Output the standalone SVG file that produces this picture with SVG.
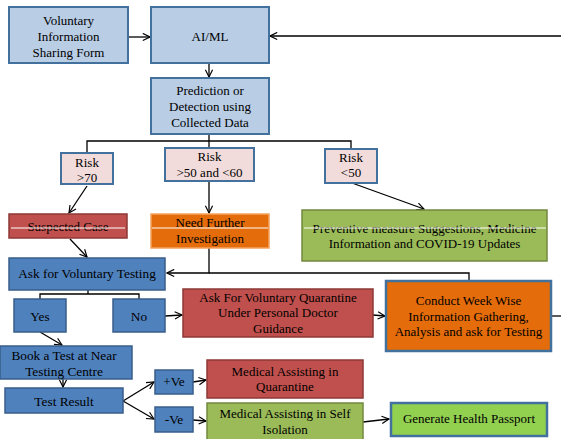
<svg xmlns="http://www.w3.org/2000/svg" width="561" height="439" viewBox="0 0 561 439">
  <defs>
    <marker id="arrow" viewBox="0 0 10 10" refX="9" refY="5" markerWidth="9" markerHeight="9" markerUnits="userSpaceOnUse" orient="auto">
      <polyline points="1,1 9,5 1,9" fill="none" stroke="#000" stroke-width="1.3"/>
    </marker>
  </defs>
  <style>
    .lblue { fill: #b9cde5; stroke: #41719c; stroke-width: 2; }
    .pink { fill: #f2dcdb; stroke: #41719c; stroke-width: 2; }
    .red { fill: #c0504d; stroke: #8c3836; stroke-width: 1.5; }
    .orange { fill: #e46c0a; stroke: #f4a460; stroke-width: 1.5; }
    .orangeb { fill: #e46c0a; stroke: #41719c; stroke-width: 2.5; }
    .green { fill: #9bbb59; stroke: #71893f; stroke-width: 1.5; }
    .bgreen { fill: #92d050; stroke: #41719c; stroke-width: 2.5; }
    .blue { fill: #4f81bd; stroke: #385d8a; stroke-width: 1.5; }
    .strike { stroke: #fff; stroke-width: 1; }
    .conn { fill: none; stroke: #000; stroke-width: 1.3; }
    .arr { marker-end: url(#arrow); }
    .big { font-size: 13.3px; }
  </style>

  <!-- connectors -->
  <g id="connectors">
    <line class="conn arr" x1="128" y1="37" x2="150" y2="37"/>
    <line class="conn arr" x1="561" y1="36" x2="270" y2="36" stroke="#333" stroke-width="1.6"/>
    <line class="conn arr" x1="209" y1="63" x2="209" y2="77"/>
    <polyline class="conn" points="209,134 209,141"/>
    <polyline class="conn" points="87,153 87,141 351,141 351,149"/>
    <line class="conn" x1="209" y1="141" x2="209" y2="148" stroke-width="1.6"/>
    <line class="conn arr" x1="87" y1="186" x2="69" y2="213"/>
    <line class="conn arr" x1="209" y1="182" x2="209" y2="213"/>
    <line class="conn arr" x1="352" y1="183" x2="424" y2="209"/>
    <line class="conn arr" x1="70" y1="239" x2="87" y2="257"/>
    <polyline class="conn arr" points="209,248 209,273 167,273"/>
    <polyline class="conn" points="209,273 469,273 469,280"/>
    <polyline class="conn" points="88,290 88,294"/>
    <polyline class="conn" points="40,299 40,294 139,294 139,299"/>
    <line class="conn arr" x1="165" y1="316" x2="182" y2="315"/>
    <line class="conn arr" x1="373" y1="315" x2="385" y2="316"/>
    <line class="conn" x1="552" y1="316" x2="561" y2="316" stroke="#444"/>
    <line class="conn arr" x1="40" y1="332" x2="62" y2="345"/>
    <line class="conn arr" x1="63" y1="379" x2="63" y2="387"/>
    <line class="conn arr" x1="123" y1="401" x2="154" y2="382"/>
    <line class="conn arr" x1="123" y1="401" x2="154" y2="419"/>
    <line class="conn arr" x1="193" y1="382" x2="206" y2="380"/>
    <line class="conn arr" x1="193" y1="420" x2="206" y2="421"/>
    <line class="conn arr" x1="363" y1="422" x2="389" y2="419"/>
  </g>

  <g font-family="'Liberation Serif', 'DejaVu Serif', serif" font-size="13" text-anchor="middle" fill="#000">
  <g id="info-form">
    <rect class="lblue" x="9" y="7" width="119" height="56"/>
    <text x="68.5" y="25">Voluntary</text>
    <text x="68.5" y="41">Information</text>
    <text x="68.5" y="57">Sharing Form</text>
  </g>

  <g id="aiml">
    <rect class="lblue" x="151" y="7" width="118" height="56"/>
    <text x="210" y="41">AI/ML</text>
  </g>

  <g id="prediction">
    <rect class="lblue" x="151" y="78" width="118" height="56"/>
    <text x="210" y="95">Prediction or</text>
    <text x="210" y="111">Detection using</text>
    <text x="210" y="127">Collected Data</text>
  </g>

  <g id="risk-high">
    <rect class="pink" x="61" y="153" width="52" height="31"/>
    <text x="87" y="167">Risk</text>
    <text x="87" y="182">&gt;70</text>
  </g>

  <g id="risk-mid">
    <rect class="pink" x="165" y="148" width="89" height="33"/>
    <text x="209.5" y="161">Risk</text>
    <text x="209.5" y="177">&gt;50 and &lt;60</text>
  </g>

  <g id="risk-low">
    <rect class="pink" x="325" y="149" width="52" height="34"/>
    <text x="351" y="162">Risk</text>
    <text x="351" y="177">&lt;50</text>
  </g>

  <g id="suspected">
    <rect class="red" x="9" y="214" width="118" height="24"/>
    <text x="68" y="231">Suspected Case</text>
    <line class="strike" x1="11" y1="228" x2="125" y2="228"/>
  </g>

  <g id="further">
    <rect class="orange" x="151" y="214" width="118" height="34"/>
    <text x="210" y="227">Need Further</text>
    <text x="210" y="243">Investigation</text>
    <line class="strike" x1="152" y1="228" x2="268" y2="228"/>
  </g>

  <g id="preventive">
    <rect class="green" x="302" y="210" width="245" height="51"/>
    <text x="424.5" y="233">Preventive measure Suggestions, Medicine</text>
    <text x="424.5" y="248">Information and COVID-19 Updates</text>
    <line class="strike" x1="304" y1="228" x2="546" y2="228"/>
  </g>

  <g id="ask-testing">
    <rect class="blue" x="9" y="258" width="156" height="32"/>
    <text class="big" x="87" y="278">Ask for Voluntary Testing</text>
  </g>

  <g id="yes">
    <rect class="blue" x="14" y="299" width="52" height="33"/>
    <text class="big" x="40" y="321">Yes</text>
  </g>

  <g id="no">
    <rect class="blue" x="113" y="299" width="52" height="33"/>
    <text class="big" x="139" y="321">No</text>
  </g>

  <g id="quarantine">
    <rect class="red" x="183" y="289" width="190" height="48"/>
    <text x="278" y="302">Ask For Voluntary Quarantine</text>
    <text x="278" y="317">Under Personal Doctor</text>
    <text x="278" y="333">Guidance</text>
  </g>

  <g id="weekly">
    <rect class="orangeb" x="386" y="281" width="165" height="70"/>
    <text x="468.5" y="305">Conduct Week Wise</text>
    <text x="468.5" y="321">Information Gathering,</text>
    <text x="468.5" y="336">Analysis and ask for Testing</text>
  </g>

  <g id="book-test">
    <rect class="blue" x="0" y="346" width="132" height="33"/>
    <text class="big" x="64" y="360">Book a Test at Near</text>
    <text class="big" x="64" y="376">Testing Centre</text>
  </g>

  <g id="test-result">
    <rect class="blue" x="5" y="388" width="118" height="25"/>
    <text class="big" x="64" y="406">Test Result</text>
  </g>

  <g id="positive">
    <rect class="blue" x="155" y="370" width="38" height="24"/>
    <text class="big" x="174" y="386">+Ve</text>
  </g>

  <g id="negative">
    <rect class="blue" x="155" y="407" width="38" height="25"/>
    <text class="big" x="174" y="424">-Ve</text>
  </g>

  <g id="assist-quarantine">
    <rect class="red" x="207" y="360" width="156" height="38"/>
    <text x="285" y="376">Medical Assisting in</text>
    <text x="285" y="391">Quarantine</text>
  </g>

  <g id="assist-isolation">
    <rect class="green" x="207" y="403" width="156" height="40"/>
    <text x="285" y="418">Medical Assisting in Self</text>
    <text x="285" y="434">Isolation</text>
  </g>

  <g id="passport">
    <rect class="bgreen" x="391" y="403" width="156" height="33"/>
    <text x="469" y="423">Generate Health Passport</text>
  </g>
  </g>
</svg>
